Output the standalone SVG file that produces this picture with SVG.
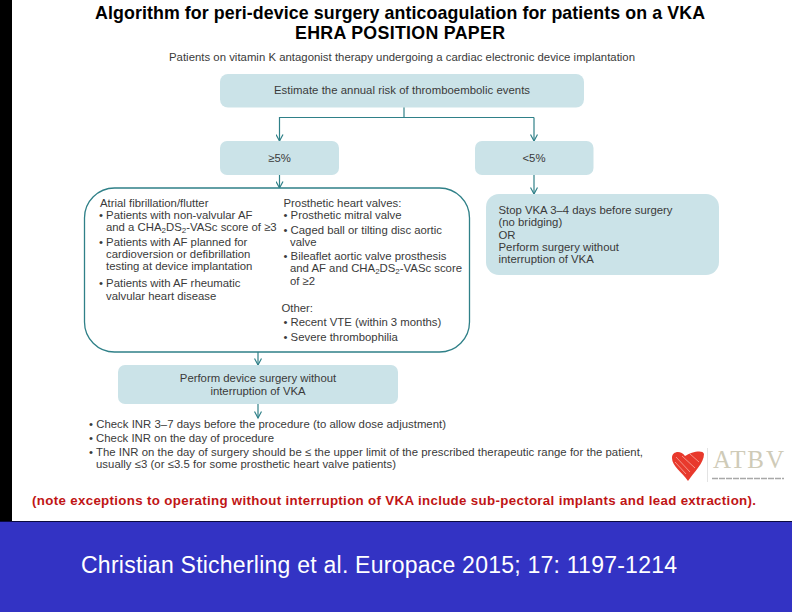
<svg xmlns="http://www.w3.org/2000/svg" width="792" height="612" viewBox="0 0 792 612">
<style>
text{font-family:"Liberation Sans",Arial,sans-serif}
.t{font-size:11.35px;fill:#3a3a3a}
.m{text-anchor:middle}
.h{font-size:17.8px;font-weight:bold;fill:#000;text-anchor:middle}
.b{fill:#cbe3e8}
.c{fill:none;stroke:#2f8088;stroke-width:1.2}
.s{font-size:8px}
</style>
<defs><marker id="a" markerWidth="10" markerHeight="8" refX="8" refY="4" orient="auto" markerUnits="userSpaceOnUse"><path d="M1.500 .5L8 4L1.500 7.500" fill="none" stroke="#2f8088" stroke-width="1.200"/></marker></defs>
<rect width="792" height="612" fill="#fff"/>
<rect id="side-bar" width="12" height="522" fill="#000"/>
<rect id="footer" y="521" width="792" height="91" fill="#3333c4"/>
<rect x="0" y="521" width="792" height="1" fill="#0a0a40"/>
<g id="title">
<text class="h" x="400" y="18.500" textLength="610">Algorithm for peri-device surgery anticoagulation for patients on a VKA</text>
<text class="h" x="400" y="38.500" textLength="210">EHRA POSITION PAPER</text>
</g>
<text id="intro" class="t m" x="402" y="60.500" textLength="466">Patients on vitamin K antagonist therapy undergoing a cardiac electronic device implantation</text>
<g id="connectors">
<path class="c" d="M404 107V117.500"/>
<path class="c" d="M534 117.500H279.500V141" marker-end="url(#a)"/>
<path class="c" d="M534 117.500V141" marker-end="url(#a)"/>
<path class="c" d="M279.500 175V188" marker-end="url(#a)"/>
<path class="c" d="M534 175V194" marker-end="url(#a)"/>
<path class="c" d="M258 352V365" marker-end="url(#a)"/>
<path class="c" d="M258 404V418" marker-end="url(#a)"/>
</g>
<g id="node-estimate"><rect class="b" x="220" y="74" width="364" height="33.500" rx="8"/><text class="t m" x="402" y="94" textLength="256">Estimate the annual risk of thromboembolic events</text></g>
<g id="node-high"><rect class="b" x="220" y="141" width="119" height="34" rx="7"/><text class="t m" x="279.500" y="161.500">≥5%</text></g>
<g id="node-low"><rect class="b" x="475" y="141" width="118.500" height="34" rx="7"/><text class="t m" x="534" y="161.500">&lt;5%</text></g>
<g id="node-stop"><rect class="b" x="486" y="194" width="233" height="81" rx="13"/>
<text class="t" x="498.500" y="214">Stop VKA 3–4 days before surgery</text>
<text class="t" x="498.500" y="226">(no bridging)</text>
<text class="t" x="498.500" y="238.500">OR</text>
<text class="t" x="498.500" y="250.500">Perform surgery without</text>
<text class="t" x="498.500" y="262.500">interruption of VKA</text></g>
<g id="node-criteria"><rect x="84.500" y="188" width="385" height="164" rx="30" fill="#fff" stroke="#2f8088" stroke-width="1.300"/>
<text class="t" x="100" y="206.500">Atrial fibrillation/flutter</text>
<text class="t" x="99" y="219">• Patients with non-valvular AF</text>
<text class="t" x="106" y="231">and a CHA<tspan class="s" dy="2">2</tspan><tspan dy="-2">DS</tspan><tspan class="s" dy="2">2</tspan><tspan dy="-2">-VASc score of ≥3</tspan></text>
<text class="t" x="99" y="246">• Patients with AF planned for</text>
<text class="t" x="106" y="258">cardioversion or defibrillation</text>
<text class="t" x="106" y="270">testing at device implantation</text>
<text class="t" x="99" y="287">• Patients with AF rheumatic</text>
<text class="t" x="106" y="299.500">valvular heart disease</text>
<text class="t" x="283.500" y="206.500">Prosthetic heart valves:</text>
<text class="t" x="283.500" y="219">• Prosthetic mitral valve</text>
<text class="t" x="283.500" y="234">• Caged ball or tilting disc aortic</text>
<text class="t" x="290" y="246">valve</text>
<text class="t" x="283.500" y="260">• Bileaflet aortic valve prosthesis</text>
<text class="t" x="290" y="272">and AF and CHA<tspan class="s" dy="2">2</tspan><tspan dy="-2">DS</tspan><tspan class="s" dy="2">2</tspan><tspan dy="-2">-VASc score</tspan></text>
<text class="t" x="290" y="284.500">of ≥2</text>
<text class="t" x="281.500" y="312">Other:</text>
<text class="t" x="283.500" y="326">• Recent VTE (within 3 months)</text>
<text class="t" x="283.500" y="341">• Severe thrombophilia</text></g>
<g id="node-perform"><rect class="b" x="118" y="365" width="280" height="39" rx="7"/>
<text class="t m" x="258" y="382">Perform device surgery without</text>
<text class="t m" x="258" y="394.500">interruption of VKA</text></g>
<g id="notes">
<text class="t" x="89" y="428" textLength="357">• Check INR 3–7 days before the procedure (to allow dose adjustment)</text>
<text class="t" x="89" y="442">• Check INR on the day of procedure</text>
<text class="t" x="89" y="455.500" textLength="554">• The INR on the day of surgery should be ≤ the upper limit of the prescribed therapeutic range for the patient,</text>
<text class="t" x="96" y="467.500" textLength="300">usually ≤3 (or ≤3.5 for some prosthetic heart valve patients)</text>
</g>
<g id="logo">
<path d="M688 481C682 472 672 466 672 458C672 451 681 450 685 456C691 452 703 449 704 454C704 463 694 472 688 481Z" fill="#e8392c"/>
<path d="M676 457L690 472M682 456L695 468M690 454L699 462M675 462L686 474" stroke="#f7a8a0" stroke-width=".8" fill="none"/>
<rect x="707" y="448" width=".8" height="34" fill="#ddd"/>
<text x="713" y="468" font-size="25" fill="#cfcbb8" style="font-family:'Liberation Serif',serif" textLength="71">ATBV</text>
<path d="M712 478.500H784" stroke="#a8a8a8" stroke-width="1.500" stroke-dasharray="6 1"/>
</g>
<text id="exceptions" x="32" y="504.500" font-size="13.300" font-weight="bold" fill="#c01515" textLength="724">(note exceptions to operating without interruption of VKA include sub-pectoral implants and lead extraction).</text>
<text id="citation" x="81" y="572.500" font-size="23" fill="#fff" textLength="596">Christian Sticherling et al. Europace 2015; 17: 1197-1214</text>
</svg>
